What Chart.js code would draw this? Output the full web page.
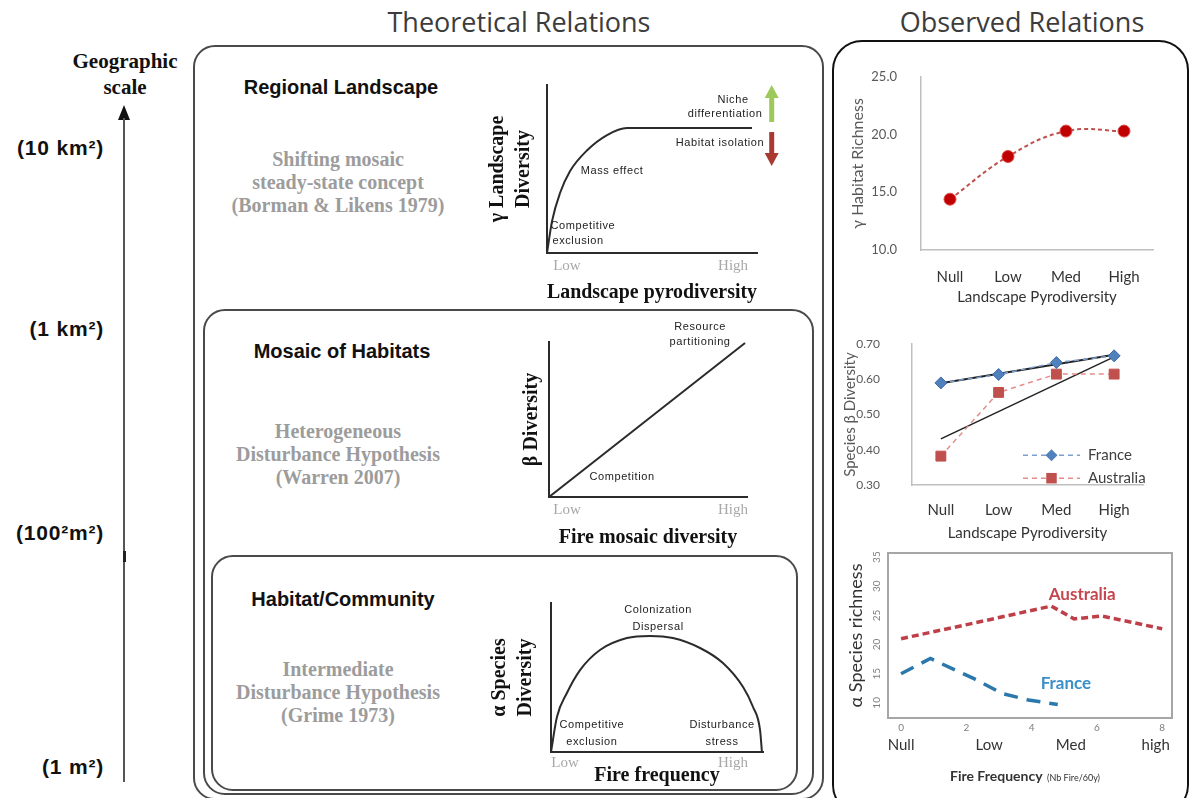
<!DOCTYPE html>
<html>
<head>
<meta charset="utf-8">
<title>Pyrodiversity and diversity relations</title>
<script src="https://cdn.jsdelivr.net/npm/chart.js@4.4.1/dist/chart.umd.min.js"></script>
<style>
  html, body { margin:0; padding:0; background:#fff; }
  body { width:1194px; height:798px; position:relative; overflow:hidden; font-family:"Liberation Sans", Arial, sans-serif; }
  canvas { position:absolute; }
  .box { position:absolute; border:2px solid #4a4a4a; border-radius:22px; box-sizing:border-box; }
  .head { position:absolute; width:300px; text-align:center; font:bold 20px/22px "Liberation Sans", Arial, sans-serif; color:#111; }
  .concept { position:absolute; width:300px; text-align:center; font:bold 20px/23px "Liberation Serif", "Times New Roman", serif; color:#9c9c9c; }
  .scale { position:absolute; left:0; width:104px; text-align:right; font:bold 21px/22px "Liberation Sans", Arial, sans-serif; letter-spacing:0.8px; color:#111; }
  .sectitle { position:absolute; width:400px; text-align:center; font:27px/31px "Open Sans", sans-serif; color:#3c3c3c; }
</style>
</head>
<body>

<div class="sectitle" style="left:319px; top:6px;">Theoretical Relations</div>
<div class="sectitle" style="left:822px; top:6px;">Observed Relations</div>

<!-- geographic scale arrow -->
<div style="position:absolute; left:25px; top:48px; width:200px; text-align:center; font:bold 21px/26px 'Liberation Serif', serif; color:#111;">Geographic<br>scale</div>
<div style="position:absolute; left:118px; top:105px; width:0; height:0; border-left:6px solid transparent; border-right:6px solid transparent; border-bottom:15px solid #111;"></div>
<div style="position:absolute; left:123px; top:118px; width:2px; height:664px; background:#555;"></div>
<div style="position:absolute; left:123px; top:551px; width:3px; height:11px; background:#222;"></div>
<div class="scale" style="top:137px;">(10 km²)</div>
<div class="scale" style="top:318px;">(1 km²)</div>
<div class="scale" style="top:522px;">(100²m²)</div>
<div class="scale" style="top:756px;">(1 m²)</div>

<!-- frames -->
<div class="box" style="left:193px; top:45px; width:631px; height:755px;"></div>
<div class="box" style="left:203px; top:309px; width:611px; height:486px;"></div>
<div class="box" style="left:211px; top:555px; width:587px; height:236px;"></div>
<div class="box" style="left:832px; top:40px; width:357px; height:775px; border-color:#111; border-radius:30px;"></div>

<div class="head" style="left:191px; top:76px;">Regional Landscape</div>
<div class="concept" style="left:188px; top:148px;">Shifting mosaic<br>steady-state concept<br>(Borman &amp; Likens 1979)</div>
<div class="head" style="left:192px; top:340px;">Mosaic of Habitats</div>
<div class="concept" style="left:188px; top:420px;">Heterogeneous<br>Disturbance Hypothesis<br>(Warren 2007)</div>
<div class="head" style="left:193px; top:588px;">Habitat/Community</div>
<div class="concept" style="left:188px; top:658px;">Intermediate<br>Disturbance Hypothesis<br>(Grime 1973)</div>

<canvas id="thGamma" width="310" height="250" style="left:480px; top:60px;"></canvas>
<canvas id="thBeta" width="310" height="250" style="left:480px; top:310px;"></canvas>
<canvas id="thAlpha" width="310" height="238" style="left:480px; top:560px;"></canvas>
<canvas id="obGamma" width="354" height="265" style="left:840px; top:45px;"></canvas>
<canvas id="obBeta" width="354" height="240" style="left:840px; top:305px;"></canvas>
<canvas id="obAlpha" width="354" height="258" style="left:840px; top:540px;"></canvas>

<div style="position:absolute; left:950px; top:767px; white-space:nowrap; color:#333;">
  <span style="font:bold 14px Lato, sans-serif;">Fire Frequency</span>
  <span style="font:9px Lato, sans-serif;">(Nb Fire/60y)</span>
</div>

<script>
// ---------------- data ----------------
const theoryLowHigh = ['Low', 'High'];
const gammaTheoryX = [0, 2.4, 6.2, 11, 19, 28.6, 38.1, 97.6];
const gammaTheoryY = [0, 19, 35.7, 48.8, 61, 70.2, 74.4, 74.4];
const betaTheoryX = [0, 99];
const betaTheoryY = [0, 99.4];
const alphaTheoryX = [0, 2.8, 7.5, 13.7, 23.1, 35.8, 46.7, 57.5, 70.3, 81.1, 90.6, 95.3, 98.6, 99.5];
const alphaTheoryY = [0, 23.5, 39.6, 55, 68.5, 76.5, 77.9, 76.5, 69.8, 59.7, 43.6, 30.2, 14.8, 0];

const pyroCategories = ['Null', 'Low', 'Med', 'High'];
const gammaRichness = [14.4, 18.1, 20.3, 20.3];
const gammaTicks = [10, 15, 20, 25];

const betaFrance = [0.59, 0.614, 0.648, 0.667];
const betaAustralia = [0.382, 0.563, 0.615, 0.615];
const betaFranceTrend = [0.589, null, null, 0.670];
const betaAustraliaTrend = [0.431, null, null, 0.664];
const betaTicks = [0.3, 0.4, 0.5, 0.6, 0.7];

const fireTicks = [0, 2, 4, 6, 8];
const fireClasses = ['Null', 'Low', 'Med', 'high'];
const fireClassAt = [0, 2.7, 5.2, 7.8];
const alphaTicks = [10, 15, 20, 25, 30, 35];
const alphaAustraliaX = [0, 2.25, 4.6, 5.3, 6.15, 8.0];
const alphaAustraliaY = [21, 23.7, 26.6, 24.4, 24.9, 22.7];
const alphaFranceX = [0, 0.9, 2.25, 3.1, 3.9, 4.8];
const alphaFranceY = [15, 17.6, 14.1, 11.6, 10.5, 9.7];

// ---------------- helpers ----------------
const pts = (xs, ys) => xs.map((x, i) => ({ x: x, y: ys[i] }));
const fixW = w => (s => { s.width = w; });
const fixH = h => (s => { s.height = h; });
const setTicks = vals => (s => { s.ticks = vals.map(v => ({ value: v })); });
const el = id => document.getElementById(id);
Chart.defaults.font.family = 'Lato';

const notesPlugin = {
  id: 'notes',
  afterDraw(chart, args, o) {
    const ctx = chart.ctx, sx = chart.scales.x, sy = chart.scales.y;
    ctx.save();
    (o.arrows || []).forEach(a => {
      const x = sx.getPixelForValue(a.x), y0 = sy.getPixelForValue(a.from), y1 = sy.getPixelForValue(a.to);
      const dir = Math.sign(y1 - y0), head = 13;
      ctx.strokeStyle = a.color; ctx.fillStyle = a.color; ctx.lineWidth = 5;
      ctx.beginPath(); ctx.moveTo(x, y0); ctx.lineTo(x, y1 - dir * head); ctx.stroke();
      ctx.beginPath(); ctx.moveTo(x - 7, y1 - dir * head); ctx.lineTo(x + 7, y1 - dir * head); ctx.lineTo(x, y1); ctx.closePath(); ctx.fill();
    });
    (o.items || []).forEach(n => {
      ctx.font = n.txtFont || o.txtFont;
      ctx.fillStyle = n.color || o.color;
      ctx.textAlign = 'center'; ctx.textBaseline = 'middle';
      ctx.letterSpacing = o.spacing || '0px';
      ctx.fillText(n.text, sx.getPixelForValue(n.x), sy.getPixelForValue(n.y));
    });
    ctx.restore();
  }
};

const framePlugin = {
  id: 'frame',
  beforeDatasetsDraw(chart, args, o) {
    if (!o.show) return;
    const a = chart.chartArea, ctx = chart.ctx;
    ctx.save(); ctx.strokeStyle = o.color; ctx.lineWidth = o.width;
    ctx.strokeRect(a.left, a.top, a.right - a.left, a.bottom - a.top);
    ctx.restore();
  }
};

const lineLegendPlugin = {
  id: 'lineLegend',
  afterDraw(chart, args, o) {
    if (!o.show) return;
    const ctx = chart.ctx, a = chart.chartArea;
    ctx.save();
    o.entries.forEach((idx, k) => {
      const ds = chart.data.datasets[idx];
      const y = a.top + o.y + k * o.gap, x0 = a.left + o.x, x1 = x0 + o.len, xm = (x0 + x1) / 2;
      ctx.strokeStyle = ds.borderColor; ctx.lineWidth = ds.borderWidth; ctx.setLineDash(ds.borderDash || []);
      ctx.beginPath(); ctx.moveTo(x0, y); ctx.lineTo(x1, y); ctx.stroke();
      ctx.setLineDash([]);
      ctx.fillStyle = ds.pointBackgroundColor;
      const r = ds.pointRadius;
      if (ds.pointStyle === 'rectRot') {
        ctx.beginPath(); ctx.moveTo(xm, y - r); ctx.lineTo(xm + r, y); ctx.lineTo(xm, y + r); ctx.lineTo(xm - r, y); ctx.closePath(); ctx.fill();
      } else {
        ctx.fillRect(xm - r * 0.75, y - r * 0.75, r * 1.5, r * 1.5);
      }
      ctx.fillStyle = o.color; ctx.font = o.txtFont; ctx.textAlign = 'left'; ctx.textBaseline = 'middle';
      ctx.fillText(ds.label, x1 + o.textGap, y);
    });
    ctx.restore();
  }
};

const base = { responsive: false, animation: false, events: [] };
const noGrid = { display: false, drawTicks: false };

// ---------------- theoretical charts ----------------
function theoryChart(id, data, o) {
  return new Chart(el(id), {
    type: 'line',
    data: { datasets: [{ data: data, borderColor: '#2b2b2b', borderWidth: 2, pointRadius: 0,
      tension: 0.4, cubicInterpolationMode: 'monotone', fill: false }] },
    options: Object.assign({}, base, {
      layout: { padding: o.pad },
      plugins: { legend: { display: false }, tooltip: { enabled: false },
        notes: { items: o.notes, arrows: o.arrows || [], txtFont: '11px "Liberation Sans"', color: '#222', spacing: '0.6px' } },
      scales: {
        x: { type: 'linear', min: 0, max: 100, grid: noGrid, border: { display: true, color: '#2b2b2b', width: 2 },
          afterBuildTicks: setTicks(o.lowHigh),
          ticks: { callback: (v, i) => theoryLowHigh[i], autoSkip: false, maxRotation: 0, padding: o.tickPad,
            font: { family: 'Liberation Serif', size: 15 }, color: '#a8a8a8' },
          title: { display: true, text: o.xTitle, color: '#111',
            font: { family: 'Liberation Serif', size: 20, weight: 'bold' }, padding: { top: 0, bottom: o.xTitlePad } },
          afterFit: fixH(o.xH) },
        y: { type: 'linear', min: 0, max: 100, grid: noGrid, border: { display: true, color: '#2b2b2b', width: 2 },
          ticks: { display: false },
          title: { display: true, text: o.yTitle, color: '#111',
            font: { family: 'Liberation Serif', size: 20, weight: 'bold', lineHeight: 1.3 }, padding: { top: o.yTitlePad, bottom: 0 } },
          afterFit: fixW(o.yW) }
      }
    }),
    plugins: [notesPlugin]
  });
}

theoryChart('thGamma', pts(gammaTheoryX, gammaTheoryY), {
  pad: { top: 25, right: 33, left: 0, bottom: 0 }, xH: 57, yW: 67, lowHigh: [9.5, 88.6], tickPad: 4,
  xTitle: 'Landscape pyrodiversity', xTitlePad: 5, yTitle: ['γ Landscape', 'Diversity'], yTitlePad: 5,
  notes: [
    { text: 'Niche', x: 88.6, y: 91 },
    { text: 'differentiation', x: 84.8, y: 82.7 },
    { text: 'Habitat isolation', x: 82.4, y: 65.5 },
    { text: 'Mass effect', x: 31, y: 48.8 },
    { text: 'Competitive', x: 17.1, y: 16.1 },
    { text: 'exclusion', x: 14.8, y: 7.1 }
  ],
  arrows: [
    { x: 107, from: 78, to: 100, color: '#9cc95a' },
    { x: 107, from: 72, to: 51.8, color: '#a83a32' }
  ]
});

theoryChart('thBeta', pts(betaTheoryX, betaTheoryY), {
  pad: { top: 32, right: 43, left: 0, bottom: 0 }, xH: 63, yW: 69, lowHigh: [9.1, 92.9], tickPad: 4,
  xTitle: 'Fire mosaic diversity', xTitlePad: 10, yTitle: 'β Diversity', yTitlePad: 39,
  notes: [
    { text: 'Resource', x: 76.3, y: 110 },
    { text: 'partitioning', x: 76.3, y: 100 },
    { text: 'Competition', x: 36.9, y: 12.9 }
  ]
});

theoryChart('thAlpha', pts(alphaTheoryX, alphaTheoryY), {
  pad: { top: 43, right: 27, left: 0, bottom: 0 }, xH: 46, yW: 71, lowHigh: [6.6, 85.8], tickPad: 2,
  xTitle: 'Fire frequency', xTitlePad: 10, yTitle: ['α Species', 'Diversity'], yTitlePad: 7,
  notes: [
    { text: 'Colonization', x: 50.5, y: 95.3 },
    { text: 'Dispersal', x: 50.5, y: 83.9 },
    { text: 'Competitive', x: 19.3, y: 18.1 },
    { text: 'exclusion', x: 19.3, y: 6.7 },
    { text: 'Disturbance', x: 80.7, y: 18.1 },
    { text: 'stress', x: 80.7, y: 6.7 }
  ]
});

// ---------------- observed: gamma ----------------
new Chart(el('obGamma'), {
  type: 'line',
  data: { labels: pyroCategories, datasets: [{ label: 'γ Habitat Richness', data: gammaRichness,
    borderColor: '#c0504d', borderDash: [4, 3], borderWidth: 2, tension: 0.4,
    pointRadius: 6, pointBackgroundColor: '#c00000', pointBorderColor: '#e04848', pointBorderWidth: 1 }] },
  options: Object.assign({}, base, {
    layout: { padding: { top: 21, right: 41, left: 0, bottom: 0 } },
    plugins: { legend: { display: false }, tooltip: { enabled: false } },
    scales: {
      x: { offset: true, grid: Object.assign({ offset: true }, noGrid), border: { color: '#bfbfbf', width: 1.5 },
        ticks: { font: { size: 15 }, color: '#333', padding: 18 },
        title: { display: true, text: 'Landscape Pyrodiversity', font: { size: 15 }, color: '#333', padding: { top: 0, bottom: 4 } },
        afterFit: fixH(60) },
      y: { min: 10, max: 25, afterBuildTicks: setTicks(gammaTicks), grid: noGrid, border: { color: '#bfbfbf', width: 1.5 },
        ticks: { callback: v => v.toFixed(1), font: { size: 13 }, color: '#595959', padding: 24 },
        title: { display: true, text: 'γ Habitat Richness', font: { size: 16 }, color: '#595959', padding: { top: 8, bottom: 0 } },
        afterFit: fixW(81) }
    }
  })
});

// ---------------- observed: beta ----------------
new Chart(el('obBeta'), {
  type: 'line',
  data: { labels: pyroCategories, datasets: [
    { label: 'France', data: betaFrance, borderColor: '#7d9fd0', borderDash: [5, 4], borderWidth: 1.5,
      pointStyle: 'rectRot', pointRadius: 6, pointBackgroundColor: '#4f81bd', pointBorderColor: '#3d6cab', pointBorderWidth: 1 },
    { label: 'Australia', data: betaAustralia, borderColor: '#e38e8b', borderDash: [5, 4], borderWidth: 1.5,
      pointStyle: 'rect', pointRadius: 7, pointBackgroundColor: '#c0504d', pointBorderColor: '#c0504d', pointBorderWidth: 1 },
    { label: 'France trend', data: betaFranceTrend, borderColor: '#222', borderWidth: 2, pointRadius: 0, spanGaps: true },
    { label: 'Australia trend', data: betaAustraliaTrend, borderColor: '#222', borderWidth: 1.5, pointRadius: 0, spanGaps: true }
  ] },
  options: Object.assign({}, base, {
    layout: { padding: { top: 22, right: 51, left: 0, bottom: 0 } },
    plugins: { legend: { display: false }, tooltip: { enabled: false },
      lineLegend: { show: true, entries: [0, 1], x: 111, y: 111, gap: 23, len: 57, textGap: 8, txtFont: '15px Lato', color: '#404040' } },
    scales: {
      x: { offset: true, grid: Object.assign({ offset: true }, noGrid), border: { color: '#bfbfbf', width: 1.5 },
        ticks: { font: { size: 15 }, color: '#333', padding: 16 },
        title: { display: true, text: 'Landscape Pyrodiversity', font: { size: 15 }, color: '#333', padding: { top: 0, bottom: 3 } },
        afterFit: fixH(60) },
      y: { min: 0.3, max: 0.7, afterBuildTicks: setTicks(betaTicks), grid: noGrid, border: { color: '#bfbfbf', width: 1.5 },
        ticks: { callback: v => v.toFixed(2), font: { size: 12 }, color: '#595959', padding: 32 },
        title: { display: true, text: 'Species β Diversity', font: { size: 15 }, color: '#595959', padding: { top: 1, bottom: 0 } },
        afterFit: fixW(72) }
    }
  }),
  plugins: [lineLegendPlugin]
});

// ---------------- observed: alpha ----------------
new Chart(el('obAlpha'), {
  type: 'line',
  data: { datasets: [
    { label: 'Australia', data: pts(alphaAustraliaX, alphaAustraliaY), borderColor: '#bf3f48', borderWidth: 3.5, borderDash: [7, 4], pointRadius: 0, tension: 0 },
    { label: 'France', data: pts(alphaFranceX, alphaFranceY), borderColor: '#2b78ad', borderWidth: 3.5, borderDash: [14, 9], pointRadius: 0, tension: 0 }
  ] },
  options: Object.assign({}, base, {
    layout: { padding: { top: 13, right: 22, left: 0, bottom: 0 } },
    plugins: { legend: { display: false }, tooltip: { enabled: false },
      frame: { show: true, color: '#a6a6a6', width: 2 },
      notes: { txtFont: 'bold 17px Lato', color: '#333', spacing: '0px', items: [
        { text: 'Australia', x: 5.55, y: 28.6, color: '#c4474f' },
        { text: 'France', x: 5.05, y: 13.3, color: '#3a8fc8' }
      ] } },
    scales: {
      x: { type: 'linear', min: -0.4, max: 8.3, afterBuildTicks: setTicks(fireTicks), grid: noGrid, border: { display: false },
        ticks: { font: { size: 10 }, color: '#7f7f7f', padding: 4, maxRotation: 0, autoSkip: false },
        afterFit: fixH(16) },
      x2: { type: 'linear', position: 'bottom', weight: 1, min: -0.4, max: 8.3, afterBuildTicks: setTicks(fireClassAt),
        grid: noGrid, border: { display: false },
        ticks: { callback: (v, i) => fireClasses[i], font: { size: 15 }, color: '#333', padding: 2, maxRotation: 0, autoSkip: false },
        afterFit: fixH(64) },
      y: { min: 7.4, max: 35.7, afterBuildTicks: setTicks(alphaTicks), grid: noGrid, border: { display: false },
        ticks: { font: { size: 10 }, color: '#7f7f7f', padding: 5, minRotation: 90, maxRotation: 90, crossAlign: 'center' },
        title: { display: true, text: 'α Species richness', font: { size: 18 }, color: '#333', padding: { top: 5, bottom: 0 } },
        afterFit: fixW(48) }
    }
  }),
  plugins: [framePlugin, notesPlugin]
});
</script>
</body>
</html>
